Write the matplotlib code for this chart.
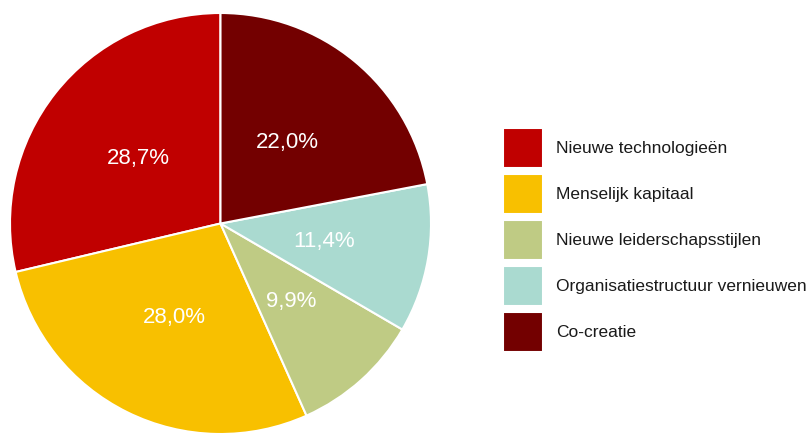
import matplotlib.pyplot as plt

plt.rcParams['font.family'] = ['Liberation Sans', 'DejaVu Sans']

labels = ["Nieuwe technologieën", "Menselijk kapitaal", "Nieuwe leiderschapsstijlen",
          "Organisatiestructuur vernieuwen", "Co-creatie"]
values = [28.7, 28.0, 9.9, 11.4, 22.0]
colors = ["#C00000", "#F8C000", "#BFCB84", "#AADAD0", "#730000"]

fig = plt.figure(figsize=(8.09, 4.33), dpi=100)
# pie area: square 421x421 px, centred at (220.5, 223.5) from top-left
ax = fig.add_axes([10 / 809, (433 - 434) / 433, 421 / 809, 421 / 433])

wedges, texts, autotexts = ax.pie(
    values, colors=colors, startangle=90, counterclock=True,
    autopct=lambda p: f"{p:.1f}%".replace(".", ","), pctdistance=0.5,
    wedgeprops=dict(edgecolor="white", linewidth=1.5),
    textprops=dict(color="white", fontsize=16), radius=1)
ax.set_xlim(-1, 1)
ax.set_ylim(-1, 1)
ax.set_aspect("equal")

fig.legend(wedges, labels, loc="upper left", bbox_to_anchor=(503 / 809, 1 - 128 / 433),
           frameon=False, borderpad=0, borderaxespad=0, fontsize=12.5,
           handlelength=2.3, handleheight=3.17, labelspacing=0.35,
           handletextpad=0.75, labelcolor="#1a1a1a")

fig.savefig("out.png", dpi=100)
